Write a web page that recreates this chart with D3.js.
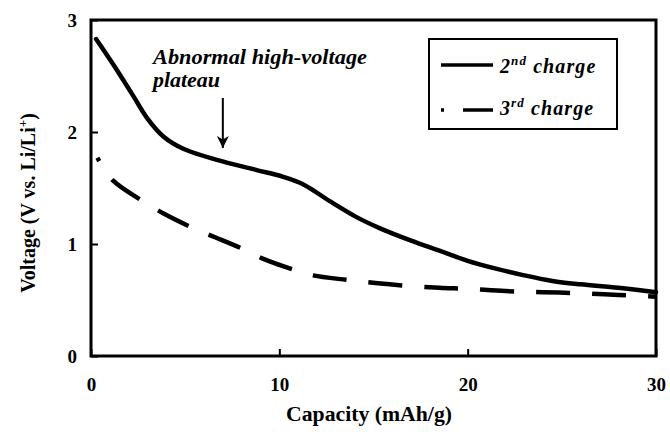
<!DOCTYPE html>
<html>
<head>
<meta charset="utf-8">
<script src="https://cdn.jsdelivr.net/npm/d3@7"></script>
<style>
  html, body { margin: 0; padding: 0; background: #fff; }
  svg { display: block; }
</style>
</head>
<body>
<svg id="chart" width="670" height="432"></svg>
<script>
// 2nd charge curve
const capacity2 = [0.27, 1.27, 2.25, 3.04, 3.84, 4.9, 7.03, 8.8, 10.2, 11.3, 12.7, 14.1, 15.35, 17.0, 18.5, 20.0, 21.5, 23.0, 24.5, 26.0, 28.0, 30.0];
const voltage2  = [2.83, 2.58, 2.32, 2.11, 1.96, 1.85, 1.735, 1.66, 1.60, 1.53, 1.38, 1.24, 1.14, 1.03, 0.94, 0.85, 0.78, 0.72, 0.67, 0.64, 0.61, 0.57];

// 3rd charge curve
const capacity3 = [0.34, 1.15, 2.78, 3.88, 5.58, 6.59, 8.14, 9.12, 10.78, 11.8, 13.57, 14.6, 16.5, 18.5, 20.0, 22.0, 24.0, 26.0, 28.0, 30.0];
const voltage3  = [1.77, 1.57, 1.38, 1.27, 1.13, 1.06, 0.95, 0.87, 0.77, 0.72, 0.68, 0.66, 0.63, 0.61, 0.60, 0.58, 0.57, 0.56, 0.545, 0.53];

const xTicks = [0, 10, 20, 30];
const yTicks = [0, 1, 2, 3];
const annotation = ["Abnormal high-voltage", "plateau"];
const annotationAt = 7.0;

const FONT = '"Liberation Serif", "DejaVu Serif", serif';

const svg = d3.select("#chart");
const plotLeft = 91, plotRight = 656, plotTop = 20, plotBottom = 356;

const x = d3.scaleLinear().domain([0, 30]).range([plotLeft, plotRight]);
const y = d3.scaleLinear().domain([0, 3]).range([plotBottom, plotTop]);

// axes with inward ticks
const xAxis = svg.append("g")
  .attr("transform", `translate(0,${plotBottom})`)
  .call(d3.axisBottom(x).tickValues(xTicks).tickSize(-7).tickPadding(22).tickFormat(d3.format("d")));
const yAxis = svg.append("g")
  .attr("transform", `translate(${plotLeft},0)`)
  .call(d3.axisLeft(y).tickValues(yTicks).tickSize(-7).tickPadding(14).tickFormat(d3.format("d")));

[xAxis, yAxis].forEach(g => {
  g.attr("font-family", null).attr("font-size", null);
  g.select(".domain").remove();
  g.selectAll(".tick line").attr("stroke", "#000").attr("stroke-width", 2);
  g.selectAll(".tick text")
    .attr("font-family", FONT)
    .attr("font-weight", "bold")
    .attr("font-size", 19)
    .attr("fill", "#000");
});

// plot frame
svg.append("rect")
  .attr("x", plotLeft).attr("y", plotTop)
  .attr("width", plotRight - plotLeft).attr("height", plotBottom - plotTop)
  .attr("fill", "none").attr("stroke", "#000").attr("stroke-width", 3);

// axis titles
svg.append("text")
  .attr("x", 369).attr("y", 421)
  .attr("text-anchor", "middle")
  .attr("font-family", FONT).attr("font-weight", "bold").attr("font-size", 20)
  .attr("textLength", 166).attr("lengthAdjust", "spacingAndGlyphs")
  .text("Capacity (mAh/g)");

const yTitle = svg.append("text")
  .attr("transform", `translate(35,${(plotTop + plotBottom) / 2 + 15}) rotate(-90)`)
  .attr("text-anchor", "middle")
  .attr("font-family", FONT).attr("font-weight", "bold").attr("font-size", 20);
yTitle.append("tspan").text("Voltage (V vs. Li/Li");
yTitle.append("tspan").attr("dy", -8).attr("font-size", 13).text("+");
yTitle.append("tspan").attr("dy", 8).text(")");

// curves
const line = d3.line()
  .x(d => x(d[0]))
  .y(d => y(d[1]))
  .curve(d3.curveCatmullRom.alpha(0.5));

svg.append("path")
  .datum(d3.zip(capacity2, voltage2))
  .attr("d", line)
  .attr("fill", "none").attr("stroke", "#000")
  .attr("stroke-width", 4.5).attr("stroke-linejoin", "round").attr("stroke-linecap", "round");

svg.append("path")
  .datum(d3.zip(capacity3, voltage3))
  .attr("d", line)
  .attr("fill", "none").attr("stroke", "#000")
  .attr("stroke-width", 4.5)
  .attr("stroke-dasharray", "34,22")
  .attr("stroke-dashoffset", 30);

// annotation with arrow pointing at the plateau
svg.append("defs").append("marker")
  .attr("id", "arrowhead")
  .attr("viewBox", "0 0 10 10")
  .attr("refX", 10).attr("refY", 5)
  .attr("markerWidth", 14).attr("markerHeight", 12)
  .attr("markerUnits", "userSpaceOnUse")
  .attr("orient", "auto")
  .append("path").attr("d", "M0,0 L10,5 L0,10 L3,5 Z").attr("fill", "#000");

svg.append("line")
  .attr("x1", x(annotationAt)).attr("x2", x(annotationAt))
  .attr("y1", 98).attr("y2", 148)
  .attr("stroke", "#000").attr("stroke-width", 2)
  .attr("marker-end", "url(#arrowhead)");

const annotWidths = [214, 67];
svg.selectAll(".annot")
  .data(annotation)
  .join("text")
  .attr("class", "annot")
  .attr("x", 153)
  .attr("y", (d, i) => 64 + i * 23)
  .attr("font-family", FONT).attr("font-weight", "bold")
  .attr("font-size", 20).attr("font-style", "italic")
  .attr("textLength", (d, i) => annotWidths[i]).attr("lengthAdjust", "spacingAndGlyphs")
  .text(d => d);

// legend
const legend = svg.append("g");
legend.append("rect")
  .attr("x", 429).attr("y", 39).attr("width", 188).attr("height", 90)
  .attr("fill", "#fff").attr("stroke", "#000").attr("stroke-width", 2);

legend.append("line")
  .attr("x1", 441).attr("x2", 493).attr("y1", 65).attr("y2", 65)
  .attr("stroke", "#000").attr("stroke-width", 3.5);
legend.append("line")
  .attr("x1", 441).attr("x2", 493).attr("y1", 110).attr("y2", 110)
  .attr("stroke", "#000").attr("stroke-width", 3.5)
  .attr("stroke-dasharray", "3,19,30");

const labelParts = [["2", "nd", " charge"], ["3", "rd", " charge"]];
labelParts.forEach((p, i) => {
  const t = legend.append("text")
    .attr("x", 500).attr("y", 73 + i * 42)
    .attr("font-family", FONT).attr("font-weight", "bold")
    .attr("font-size", 20).attr("font-style", "italic")
    .attr("letter-spacing", 1.1);
  t.append("tspan").text(p[0]);
  t.append("tspan").attr("dy", -8).attr("font-size", 13).text(p[1]);
  t.append("tspan").attr("dy", 8).text(p[2]);
});
</script>
</body>
</html>
